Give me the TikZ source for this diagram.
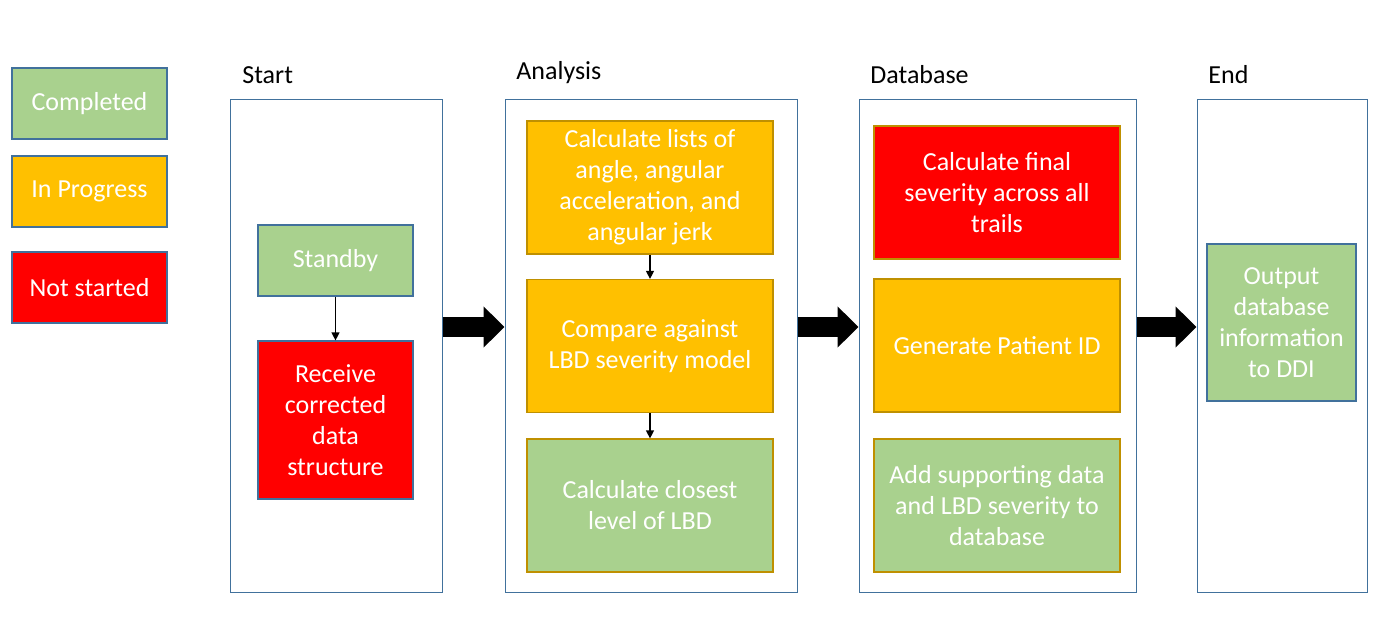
\documentclass[tikz,border=0pt]{standalone}
\usepackage{fontspec}
\setmainfont{Carlito}
\usetikzlibrary{arrows.meta}
\definecolor{done}{HTML}{A9D18E}
\definecolor{progress}{HTML}{FFC000}
\definecolor{notstarted}{HTML}{FF0000}
\definecolor{blueline}{HTML}{41719C}
\definecolor{goldline}{HTML}{BF9000}
\tikzset{
  box/.style={draw=blueline, line width=0.6pt, text=white, align=center, inner sep=0pt,
    minimum width=77.5pt, minimum height=35.5pt, font=\fontsize{13}{15.5}\selectfont},
  wide/.style={box, draw=goldline, minimum width=123pt, minimum height=66.5pt},
  lane/.style={draw=blueline, line width=0.5pt, minimum height=246pt, inner sep=0pt},
  title/.style={anchor=base west, inner sep=0pt, font=\fontsize{13}{15.5}\selectfont},
  thin/.style={line width=0.6pt, -{Triangle[length=4pt,width=4pt]}},
  bigarrow/.style={line width=10pt, -{Triangle[length=10.5pt,width=20pt]}}
}
\begin{document}
\begin{tikzpicture}[x=0.5pt,y=-0.5pt]
\useasboundingbox (0,0) rectangle (1386,631);
\node[box, fill=done] (completed) at (89.5,103.5) {Completed};
\node[box, fill=progress] (inprogress) at (89.5,191.5) {In Progress};
\node[box, fill=notstarted] (notstarted) at (89.5,287.5) {Not started};
\node[lane, minimum width=106pt] (start) at (336,346) {};
\node[lane, minimum width=146pt] (analysis) at (651,346) {};
\node[lane, minimum width=138.5pt] (database) at (997.5,346) {};
\node[lane, minimum width=85pt] (end) at (1282,346) {};
\node[title] (starttitle) at (242,84) {Start};
\node[title] (analysistitle) at (516,80) {Analysis};
\node[title] (databasetitle) at (870,84) {Database};
\node[title] (endtitle) at (1208,84) {End};
\node[box, fill=done] (standby) at (335.5,260.5) {Standby};
\node[box, fill=notstarted, minimum height=79pt] (receive) at (335.5,420) {Receive\\corrected\\data\\structure};
\node[wide, fill=progress] (lists) at (650,187.5) {Calculate lists of\\angle, angular\\acceleration, and\\angular jerk};
\node[wide, fill=progress] (compare) at (650,346) {Compare against\\LBD severity model};
\node[wide, fill=done] (closest) at (650,505.5) {Calculate closest\\level of LBD};
\node[wide, fill=notstarted] (final) at (997,192.5) {Calculate final\\severity across all\\trails};
\node[wide, fill=progress] (patient) at (997,345.5) {Generate Patient ID};
\node[wide, fill=done] (supporting) at (997,505.5) {Add supporting data\\and LBD severity to\\database};
\node[box, fill=done, minimum width=74.5pt, minimum height=78.5pt] (output) at (1281.5,322.5) {Output\\database\\information\\to DDI};
\coordinate (level) at (0,327);
\draw[thin] (standby) -- (receive);
\draw[thin] (lists) -- (compare);
\draw[thin] (compare) -- (closest);
\draw[bigarrow] (start.east |- level) -- (analysis.west |- level);
\draw[bigarrow] (analysis.east |- level) -- (database.west |- level);
\draw[bigarrow] (database.east |- level) -- (end.west |- level);
\end{tikzpicture}
\end{document}
